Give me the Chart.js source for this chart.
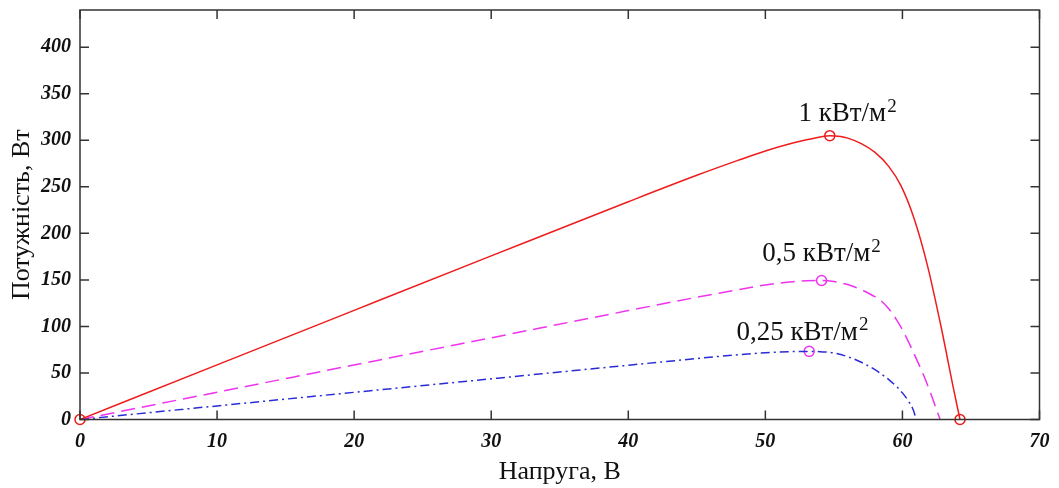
<!DOCTYPE html>
<html lang="uk">
<head>
  <meta charset="UTF-8">
  <title>Потужність від напруги</title>
  <script src="https://cdn.jsdelivr.net/npm/chart.js"></script>
  <style>
    html, body { margin: 0; padding: 0; background: #fff; }
    #wrap { width: 1059px; height: 488px; }
  </style>
</head>
<body>
  <div id="wrap"><canvas id="pvChart"></canvas></div>

  <script>
    // 1 кВт/м2
    const volts1 = [0, 10, 20, 30, 40, 45, 48, 50, 52, 53, 54, 54.7, 55.5, 56, 57, 58, 59, 59.9, 60.85, 61.8, 62.8, 63.77, 64.2];
    const power1 = [0, 58.7, 117.3, 175.8, 234, 262.4, 278.4, 288.5, 297, 300.5, 303.5, 305, 304, 302.3, 296.5, 287, 272, 251, 216, 167, 101, 30, 0];
    // 0,5 кВт/м2
    const volts05 = [0, 10, 20, 30, 40, 45, 48, 50, 52, 53, 54.1, 55, 56, 57, 57.8, 58.4, 59, 59.6, 60.1, 60.6, 61.1, 61.6, 62.1, 62.55, 62.75];
    const power05 = [0, 29.3, 58.6, 87.8, 117, 131.3, 139.4, 144.5, 148, 149, 149.4, 148.3, 145, 139.5, 133.5, 128, 119, 106.5, 93.5, 78.5, 62.5, 45.7, 26.5, 8, 0];
    // 0,25 кВт/м2
    const volts025 = [0, 10, 20, 30, 40, 45, 48, 50, 52, 53.2, 54, 55, 56, 57, 58, 58.4, 59, 59.6, 60, 60.4, 60.8, 61];
    const power025 = [0, 14.6, 29.2, 43.7, 58.3, 65.5, 69.6, 71.8, 73, 73.2, 72.8, 71.5, 67.5, 61.5, 53.5, 49.5, 42.9, 35, 28.6, 20.6, 10, 0];

    // circle markers
    const redMarkV = [0, 54.7, 64.2];
    const redMarkP = [0, 305, 0];
    const pinkMarkV = [54.1, 53.2];
    const pinkMarkP = [149.4, 73.2];

    // text labels near the curves
    const labelText = ['1 кВт/м', '0,5 кВт/м', '0,25 кВт/м'];
    const labelV = [52.41, 49.78, 47.89];
    const labelP = [320.2, 169.8, 85.8];

    const xTicks = [0, 10, 20, 30, 40, 50, 60, 70];
    const yTicks = [0, 50, 100, 150, 200, 250, 300, 350, 400];

    const pts = (xs, ys) => xs.map((x, i) => ({ x: x, y: ys[i] }));

    // frame + inward ticks on all four sides
    const framePlugin = {
      id: 'frame',
      afterDraw(chart) {
        const { ctx, chartArea: a, scales } = chart;
        const len = 9;
        ctx.save();
        ctx.strokeStyle = '#333';
        ctx.lineWidth = 1.5;
        ctx.beginPath();
        xTicks.forEach(v => {
          const px = scales.x.getPixelForValue(v);
          ctx.moveTo(px, a.bottom); ctx.lineTo(px, a.bottom - len);
          ctx.moveTo(px, a.top); ctx.lineTo(px, a.top + len);
        });
        yTicks.forEach(v => {
          const py = scales.y.getPixelForValue(v);
          ctx.moveTo(a.left, py); ctx.lineTo(a.left + len, py);
          ctx.moveTo(a.right, py); ctx.lineTo(a.right - len, py);
        });
        ctx.stroke();
        ctx.strokeRect(a.left, a.top, a.right - a.left, a.bottom - a.top);
        ctx.restore();
      }
    };

    const labelPlugin = {
      id: 'curveLabels',
      afterDatasetsDraw(chart) {
        const { ctx, scales } = chart;
        ctx.save();
        ctx.fillStyle = '#111';
        ctx.textBaseline = 'alphabetic';
        ctx.textAlign = 'left';
        labelText.forEach((t, i) => {
          const x = scales.x.getPixelForValue(labelV[i]);
          const y = scales.y.getPixelForValue(labelP[i]);
          ctx.font = '27px "Liberation Serif"';
          ctx.fillText(t, x, y);
          const w = ctx.measureText(t).width;
          ctx.font = '19px "Liberation Serif"';
          ctx.fillText('2', x + w + 1, y - 9.5);
        });
        ctx.restore();
      }
    };

    const tickFont = { family: '"Liberation Serif"', size: 20, style: 'italic', weight: 'bold' };
    const titleFont = { family: '"Liberation Serif"', size: 26, lineHeight: 1 };

    new Chart(document.getElementById('pvChart'), {
      type: 'line',
      data: {
        datasets: [
          { data: pts(volts1, power1), borderColor: '#ee1c1c', borderWidth: 1.5, pointRadius: 0, cubicInterpolationMode: 'monotone', fill: false },
          { data: pts(volts05, power05), borderColor: '#ee33ee', borderWidth: 1.5, borderDash: [14, 7], pointRadius: 0, cubicInterpolationMode: 'monotone', fill: false },
          { data: pts(volts025, power025), borderColor: '#2b2bd6', borderWidth: 1.5, borderDash: [9, 4, 2, 4], pointRadius: 0, cubicInterpolationMode: 'monotone', fill: false },
          { data: pts(redMarkV, redMarkP), showLine: false, pointRadius: 5, pointBorderWidth: 1.5, pointBorderColor: '#ee1c1c', pointBackgroundColor: 'rgba(0,0,0,0)', clip: false },
          { data: pts(pinkMarkV, pinkMarkP), showLine: false, pointRadius: 5, pointBorderWidth: 1.5, pointBorderColor: '#ee33ee', pointBackgroundColor: 'rgba(0,0,0,0)', clip: false }
        ]
      },
      options: {
        responsive: true,
        maintainAspectRatio: false,
        animation: false,
        layout: { padding: { top: 10, right: 19.5, left: 0, bottom: 0 } },
        plugins: { legend: { display: false }, tooltip: { enabled: false } },
        scales: {
          x: {
            type: 'linear', min: 0, max: 70,
            grid: { display: false, drawTicks: false }, border: { display: false },
            ticks: { stepSize: 10, includeBounds: false, padding: 10, color: '#111', font: tickFont, maxRotation: 0 },
            title: { display: true, text: 'Напруга, В', color: '#111', font: titleFont, padding: { top: 0, bottom: 3 } },
            afterFit: s => { s.height = 68.5; s.paddingLeft = 0; s.paddingRight = 0; }
          },
          y: {
            type: 'linear', min: 0, max: 440,
            grid: { display: false, drawTicks: false }, border: { display: false },
            ticks: { stepSize: 50, includeBounds: false, padding: 9, color: '#111', font: tickFont },
            title: { display: true, text: 'Потужність, Вт', color: '#111', font: titleFont, padding: { top: 9, bottom: 0 } },
            afterFit: s => { s.width = 80; s.paddingTop = 0; s.paddingBottom = 0; }
          }
        }
      },
      plugins: [framePlugin, labelPlugin]
    });
  </script>
</body>
</html>
